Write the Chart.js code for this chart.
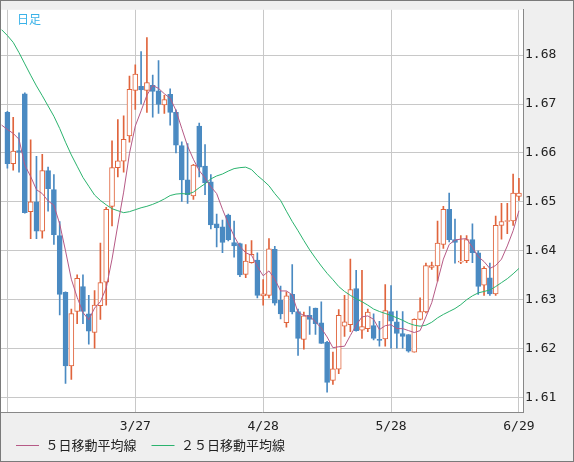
<!DOCTYPE html>
<html>
<head>
<meta charset="utf-8">
<script src="https://cdn.jsdelivr.net/npm/chart.js@4.4.1/dist/chart.umd.min.js"></script>
<style>
  html, body { margin: 0; padding: 0; background: #efefef; }
  #wrap { width: 574px; height: 462px; }
</style>
</head>
<body>
<div id="wrap"><canvas id="candleChart" width="574" height="462"></canvas></div>
<script>
(() => {
    // 日足 OHLC (index 0..88)
    const opens = [1.6683,1.6578,1.6605,1.6721,1.6480,1.6500,1.6440,1.6564,1.6525,1.6431,
        1.6315,1.6165,1.6276,1.6327,1.6271,1.6233,1.6288,1.6336,1.6491,1.6570,
        1.6583,1.6635,1.6728,1.6736,1.6728,1.6738,1.6727,1.6698,1.6720,1.6683,
        1.6615,1.6545,1.6512,1.6655,1.6573,1.6541,1.6455,1.6449,1.6473,1.6417,
        1.6415,1.6352,1.6376,1.6381,1.6308,1.6309,1.6403,1.6299,1.6253,1.6311,
        1.6276,1.6219,1.6268,1.6283,1.6253,1.6213,1.6135,1.6158,1.6246,1.6249,
        1.6323,1.6238,1.6241,1.6247,1.6219,1.6220,1.6276,1.6255,1.6231,1.6229,
        1.6193,1.6260,1.6275,1.6366,1.6369,1.6413,1.6485,1.6423,1.6377,1.6380,
        1.6423,1.6396,1.6330,1.6345,1.6312,1.6452,1.6460,1.6461,1.6511];
    const highs = [1.6685,1.6673,1.6641,1.6723,1.6627,1.6593,1.6597,1.6571,1.6556,1.6460,
        1.6316,1.6281,1.6351,1.6351,1.6309,1.6319,1.6416,1.6489,1.6625,1.6668,
        1.6676,1.6757,1.6780,1.6807,1.6836,1.6759,1.6789,1.6718,1.6731,1.6688,
        1.6623,1.6619,1.6577,1.6661,1.6617,1.6556,1.6475,1.6463,1.6475,1.6461,
        1.6416,1.6413,1.6421,1.6396,1.6341,1.6425,1.6409,1.6328,1.6316,1.6372,
        1.6281,1.6275,1.6286,1.6283,1.6296,1.6215,1.6193,1.6280,1.6309,1.6383,
        1.6360,1.6360,1.6281,1.6271,1.6256,1.6331,1.6329,1.6277,1.6276,1.6229,
        1.6261,1.6304,1.6375,1.6377,1.6461,1.6491,1.6518,1.6465,1.6431,1.6431,
        1.6455,1.6400,1.6368,1.6375,1.6471,1.6497,1.6497,1.6557,1.6548];
    const lows = [1.6569,1.6565,1.6561,1.6477,1.6425,1.6425,1.6426,1.6481,1.6413,1.6269,
        1.6129,1.6137,1.6251,1.6251,1.6209,1.6201,1.6260,1.6289,1.6451,1.6551,
        1.6561,1.6622,1.6689,1.6700,1.6683,1.6673,1.6681,1.6681,1.6657,1.6600,
        1.6501,1.6497,1.6505,1.6551,1.6515,1.6445,1.6408,1.6396,1.6420,1.6387,
        1.6347,1.6345,1.6375,1.6304,1.6289,1.6304,1.6289,1.6261,1.6244,1.6271,
        1.6186,1.6199,1.6229,1.6229,1.6211,1.6111,1.6127,1.6149,1.6225,1.6235,
        1.6236,1.6221,1.6235,1.6218,1.6205,1.6205,1.6201,1.6201,1.6201,1.6193,
        1.6193,1.6259,1.6273,1.6362,1.6338,1.6405,1.6418,1.6375,1.6374,1.6376,
        1.6376,1.6311,1.6309,1.6309,1.6309,1.6424,1.6435,1.6452,1.6503];
    const closes = [1.6578,1.6604,1.6601,1.6478,1.6500,1.6440,1.6564,1.6527,1.6433,1.6311,
        1.6165,1.6272,1.6344,1.6276,1.6236,1.6289,1.6335,1.6485,1.6570,1.6584,
        1.6628,1.6730,1.6761,1.6729,1.6744,1.6726,1.6699,1.6709,1.6683,1.6616,
        1.6545,1.6515,1.6575,1.6571,1.6539,1.6453,1.6447,1.6417,1.6423,1.6410,
        1.6351,1.6379,1.6393,1.6309,1.6312,1.6404,1.6293,1.6271,1.6308,1.6275,
        1.6221,1.6267,1.6260,1.6251,1.6211,1.6131,1.6159,1.6268,1.6255,1.6321,
        1.6237,1.6245,1.6275,1.6221,1.6217,1.6278,1.6256,1.6231,1.6225,1.6195,
        1.6260,1.6276,1.6370,1.6370,1.6416,1.6485,1.6423,1.6417,1.6378,1.6423,
        1.6396,1.6327,1.6364,1.6312,1.6452,1.6460,1.6461,1.6518,1.6518];

    // 移動平均線 (index -1..88, 左端は少しはみ出す)
    const maStart = -1;
    const ma5 = [1.6657,1.6648,1.6640,1.6628,1.6575,1.6552,1.6525,1.6517,1.6502,1.6493,
        1.6455,1.6400,1.6342,1.6305,1.6274,1.6259,1.6283,1.6296,1.6324,1.6383,
        1.6453,1.6520,1.6599,1.6655,1.6686,1.6718,1.6738,1.6732,1.6721,1.6712,
        1.6687,1.6650,1.6614,1.6587,1.6564,1.6549,1.6531,1.6517,1.6485,1.6456,
        1.6430,1.6409,1.6396,1.6391,1.6368,1.6349,1.6359,1.6342,1.6318,1.6318,
        1.6310,1.6274,1.6268,1.6266,1.6255,1.6242,1.6224,1.6202,1.6204,1.6205,
        1.6227,1.6248,1.6265,1.6267,1.6260,1.6239,1.6247,1.6249,1.6241,1.6241,
        1.6237,1.6233,1.6237,1.6265,1.6294,1.6338,1.6383,1.6413,1.6422,1.6424,
        1.6425,1.6407,1.6388,1.6378,1.6364,1.6370,1.6383,1.6410,1.6441,1.6482];
    const ma25 = [1.6852,1.6840,1.6826,1.6805,1.6782,1.6759,1.6737,1.6717,1.6696,1.6675,
        1.6650,1.6622,1.6596,1.6573,1.6550,1.6532,1.6514,1.6503,1.6494,1.6486,
        1.6482,1.6478,1.6480,1.6484,1.6488,1.6491,1.6495,1.6500,1.6506,1.6513,
        1.6516,1.6517,1.6516,1.6520,1.6529,1.6537,1.6547,1.6553,1.6557,1.6563,
        1.6568,1.6570,1.6571,1.6566,1.6554,1.6544,1.6533,1.6517,1.6503,1.6481,
        1.6460,1.6441,1.6421,1.6402,1.6385,1.6369,1.6354,1.6341,1.6327,1.6317,
        1.6309,1.6302,1.6296,1.6289,1.6281,1.6276,1.6272,1.6268,1.6263,1.6258,
        1.6252,1.6248,1.6246,1.6248,1.6254,1.6263,1.6270,1.6276,1.6282,1.6290,
        1.6300,1.6308,1.6314,1.6317,1.6320,1.6327,1.6335,1.6343,1.6353,1.6364];

    // 目盛り
    const xTickPos = [0, 22, 44, 66, 88];
    const xTickText = ['', '3/27', '4/28', '5/28', '6/29'];
    const yTicks = [1.61, 1.62, 1.63, 1.64, 1.65, 1.66, 1.67, 1.68];

    const UP = '#e0643c';
    const DOWN = '#4a8ac2';
    const MA5_COLOR = '#b65a86';
    const MA25_COLOR = '#2bb36e';
    const GRID = '#c8c8c8';
    const isUp = (i) => closes[i] >= opens[i];

    // 背景・外枠・「日足」
    const framePlugin = {
        id: 'frame',
        afterLayout(chart) {
            // x軸ラベルが凡例の上で切れないように
            chart.scales.x.bottom = chart.height;
        },
        beforeDraw(chart) {
            const { ctx, chartArea: a } = chart;
            ctx.save();
            ctx.fillStyle = '#efefef';
            ctx.fillRect(0, 0, chart.width, chart.height);
            ctx.fillStyle = '#ffffff';
            ctx.fillRect(a.left, a.top, a.right - a.left, a.bottom - a.top);
            ctx.restore();
        },
        afterDraw(chart) {
            const { ctx, chartArea: a } = chart;
            ctx.save();
            ctx.fillStyle = '#3ab2e8';
            ctx.font = "12px 'Noto Sans CJK JP'";
            ctx.textBaseline = 'middle';
            ctx.fillText('日足', a.left + 16, a.top + 10);
            ctx.strokeStyle = '#7a7a7a';
            ctx.lineWidth = 1;
            ctx.strokeRect(0.5, 0.5, chart.width - 1, chart.height - 1);
            ctx.restore();
        }
    };

    const el = document.getElementById('candleChart');
    new Chart(el.getContext('2d'), {
        type: 'line',
        data: {
            datasets: [{
                type: 'line',
                label: '５日移動平均線',
                data: ma5.map((v, k) => ({ x: maStart + k, y: v })),
                borderColor: MA5_COLOR,
                backgroundColor: MA5_COLOR,
                borderWidth: 1,
                pointRadius: 0,
                tension: 0,
                order: 0
            }, {
                type: 'line',
                label: '２５日移動平均線',
                data: ma25.map((v, k) => ({ x: maStart + k, y: v })),
                borderColor: MA25_COLOR,
                backgroundColor: MA25_COLOR,
                borderWidth: 1,
                pointRadius: 0,
                tension: 0,
                order: 0
            }, {
                type: 'bar',
                label: 'body',
                data: opens.map((o, i) => ({ x: i, y: [Math.min(o, closes[i]), Math.max(o, closes[i])] })),
                backgroundColor: (c) => isUp(c.dataIndex) ? '#ffffff' : DOWN,
                borderColor: (c) => isUp(c.dataIndex) ? UP : DOWN,
                borderWidth: 1,
                borderSkipped: false,
                barThickness: 5,
                minBarLength: 1,
                grouped: false,
                order: 1
            }, {
                type: 'bar',
                label: 'wick',
                data: lows.map((l, i) => ({ x: i, y: [l, highs[i]] })),
                backgroundColor: (c) => isUp(c.dataIndex) ? UP : DOWN,
                borderWidth: 0,
                barThickness: 1,
                grouped: false,
                order: 2
            }]
        },
        options: {
            responsive: false,
            animation: false,
            events: [],
            layout: { padding: { left: 1, top: 1, right: 0, bottom: 0 } },
            plugins: {
                tooltip: { enabled: false },
                legend: {
                    position: 'bottom',
                    align: 'start',
                    labels: {
                        usePointStyle: true,
                        pointStyle: 'line',
                        pointStyleWidth: 23,
                        padding: 15,
                        color: '#222',
                        font: { family: "'Noto Sans CJK JP'", size: 13 },
                        filter: (item) => item.datasetIndex < 2
                    }
                }
            },
            scales: {
                x: {
                    type: 'linear',
                    offset: false,
                    min: -1.1,
                    max: 88.7,
                    afterBuildTicks: (axis) => { axis.ticks = xTickPos.map(v => ({ value: v })); },
                    afterFit: (axis) => { axis.height = 12; },
                    grid: { color: GRID, drawTicks: false, offset: false },
                    border: { color: '#888', width: 1 },
                    ticks: {
                        autoSkip: false,
                        maxRotation: 0,
                        padding: 7,
                        color: '#222',
                        font: { family: "'DejaVu Sans Mono'", size: 13 },
                        callback: (v) => xTickText[xTickPos.indexOf(v)]
                    }
                },
                y: {
                    position: 'right',
                    min: 1.60706,
                    max: 1.68926,
                    afterBuildTicks: (axis) => { axis.ticks = yTicks.map(v => ({ value: v })); },
                    afterFit: (axis) => { axis.width = 51; },
                    grid: { color: GRID, drawTicks: false },
                    border: { color: '#888', width: 1 },
                    ticks: {
                        padding: 2,
                        color: '#222',
                        font: { family: "'DejaVu Sans Mono'", size: 13 },
                        callback: (v) => v.toFixed(2)
                    }
                }
            }
        },
        plugins: [framePlugin]
    });
})();
</script>
</body>
</html>
